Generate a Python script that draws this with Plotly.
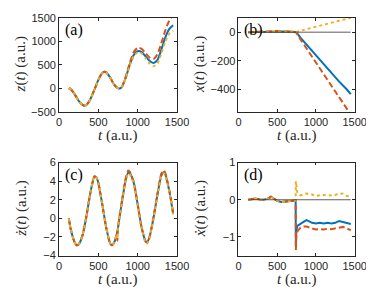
import plotly.graph_objects as go

# ---------------- data ----------------
# (a) z(t)
t_z = [125, 150, 200, 250, 300, 325, 350, 400, 450, 500, 550, 575, 600, 650, 700, 750, 775, 800,
       850, 900, 950, 1000, 1050, 1100, 1150, 1200, 1250, 1300, 1350, 1400, 1450]
z_blue = [0, -20, -130, -270, -355, -370, -355, -230, -30, 180, 325, 350, 340, 230, 80, 5, -5, 30,
          235, 505, 710, 790, 770, 680, 585, 540, 600, 820, 1080, 1260, 1340]
z_red = [0, -20, -130, -270, -355, -370, -355, -230, -30, 180, 325, 350, 340, 230, 80, 5, -5, 35,
         255, 545, 770, 860, 840, 745, 655, 625, 720, 960, 1230, 1440, 1560]
z_yel = [0, -20, -130, -270, -355, -370, -355, -230, -30, 180, 325, 350, 340, 230, 80, 5, -5, 28,
         225, 485, 685, 765, 740, 640, 525, 470, 525, 740, 990, 1160, 1225]

# (b) x(t)
t_x = [125, 200, 300, 400, 450, 500, 550, 600, 700, 745, 800, 900, 1000, 1100, 1200, 1300, 1400, 1450]
x_blue = [0, 1, 2, 4, 6, 7, 6, 5, 3, 0, -38, -100, -162, -225, -285, -345, -400, -432]
x_red = [0, 1, 3, 5, 8, 10, 9, 6, 3, 0, -50, -130, -210, -290, -370, -450, -530, -575]
x_yel = [0, 1, 3, 5, 8, 9, 8, 6, 3, 0, 10, 25, 40, 55, 68, 80, 93, 100]

# (c) zdot(t)
t_zd = [125, 150, 200, 225, 250, 300, 350, 400, 450, 475, 500, 550, 600, 650, 675, 700, 735, 742,
        750, 800, 850, 880, 900, 950, 1000, 1050, 1100, 1120, 1150, 1200, 1250, 1300, 1330, 1350,
        1400, 1450]
zd_blue = [0, -1.2, -2.6, -2.9, -2.8, -1.8, 0.3, 2.8, 4.5, 4.4, 3.8, 1.5, -1.0, -2.7, -2.9, -2.6,
           -1.7, -1.4, -1.0, 1.8, 4.2, 4.95, 4.85, 3.8, 1.5, -1.0, -2.45, -2.55, -2.0, 0.0, 2.5,
           4.6, 4.95, 4.75, 3.0, 0.5]
zd_red = [0, -1.2, -2.6, -2.9, -2.8, -1.8, 0.3, 2.8, 4.5, 4.4, 3.8, 1.5, -1.0, -2.7, -2.9, -2.6,
          -1.7, -2.4, -1.0, 1.9, 4.4, 5.15, 5.0, 3.9, 1.5, -1.0, -2.5, -2.6, -2.0, 0.1, 2.6, 4.8,
          5.15, 4.9, 3.1, 0.6]
zd_yel = [0, -1.2, -2.6, -2.9, -2.8, -1.8, 0.3, 2.8, 4.5, 4.4, 3.8, 1.5, -1.0, -2.7, -2.9, -2.6,
          -1.7, -2.2, -1.0, 1.7, 4.1, 4.85, 4.75, 3.7, 1.4, -1.1, -2.6, -2.7, -2.1, -0.1, 2.4,
          4.5, 4.85, 4.65, 2.9, 0.4]

# (d) xdot(t)
t_xd = [125, 175, 220, 270, 320, 380, 420, 450, 500, 550, 600, 650, 700, 738, 741, 746, 760, 800,
        850, 880, 950, 1000, 1050, 1100, 1150, 1200, 1250, 1300, 1350, 1400, 1450]
xd_blue = [0, 0.01, 0.03, 0.01, 0.0, 0.03, 0.08, 0.04, -0.03, -0.06, -0.05, -0.03, -0.04, -0.02,
           -1.25, -0.85, -0.7, -0.64, -0.58, -0.55, -0.62, -0.64, -0.62, -0.64, -0.62, -0.64,
           -0.62, -0.57, -0.6, -0.63, -0.65]
xd_red = [0, 0.01, 0.03, 0.01, 0.0, 0.03, 0.08, 0.04, -0.03, -0.06, -0.05, -0.03, -0.04, -0.02,
          -1.35, -1.0, -0.85, -0.75, -0.72, -0.72, -0.77, -0.8, -0.79, -0.8, -0.78, -0.79, -0.77,
          -0.74, -0.73, -0.77, -0.82]
xd_yel = [0, 0.01, 0.03, 0.01, 0.0, 0.03, 0.08, 0.04, -0.03, -0.06, -0.05, -0.03, -0.04, -0.02,
          0.5, 0.35, 0.18, 0.12, 0.15, 0.17, 0.14, 0.1, 0.12, 0.13, 0.11, 0.12, 0.13, 0.17, 0.16,
          0.1, 0.08]

t_zero = [125, 1450]
zero_line = [0, 0]

x_ticks = [0, 500, 1000, 1500]
panel_labels = ["(a)", "(b)", "(c)", "(d)"]
y_titles = ["<i>z</i>(<i>t</i>) (a.u.)", "<i>x</i>(<i>t</i>) (a.u.)",
            "<i>ż</i>(<i>t</i>) (a.u.)", "<i>ẋ</i>(<i>t</i>) (a.u.)"]
x_title = "<i>t</i> (a.u.)"

# ---------------- figure ----------------
W, H = 374, 289
BLUE, RED, YEL = "#0072BD", "#D95319", "#EDB120"
SERIF = "Liberation Serif, Times New Roman, serif"

fig = go.Figure()

panels = [
    ("x", "y", t_z, z_blue, z_red, z_yel, "spline", False),
    ("x2", "y2", t_x, x_blue, x_red, x_yel, "linear", True),
    ("x3", "y3", t_zd, zd_blue, zd_red, zd_yel, "spline", False),
    ("x4", "y4", t_xd, xd_blue, xd_red, xd_yel, "linear", True),
]
for xa, ya, tt, b, r, yv, shape, zl in panels:
    fig.add_trace(go.Scatter(x=tt, y=b, mode="lines", xaxis=xa, yaxis=ya,
                             line=dict(color=BLUE, width=2, shape=shape, smoothing=0.6)))
    fig.add_trace(go.Scatter(x=tt, y=r, mode="lines", xaxis=xa, yaxis=ya,
                             line=dict(color=RED, width=2, dash="6px,3px", shape=shape,
                                       smoothing=0.6)))
    fig.add_trace(go.Scatter(x=tt, y=yv, mode="lines", xaxis=xa, yaxis=ya,
                             line=dict(color=YEL, width=2, dash="dot", shape=shape,
                                       smoothing=0.6)))
    if zl:
        fig.add_trace(go.Scatter(x=t_zero, y=zero_line, mode="lines", xaxis=xa, yaxis=ya,
                                 line=dict(color="#333333", width=0.8)))

# domains in pixels
px_x = [(50, 173), (237, 358), (50, 173), (237, 358)]
px_y = [(4, 102), (4, 102), (155, 252), (155, 252)]
y_ranges = [[-500, 1500], [-555, 100], [-4, 6], [-1.5, 1]]
y_ticks = [[-500, 0, 500, 1000, 1500], [-400, -200, 0], [-4, -2, 0, 2, 4, 6], [-1, 0, 1]]

axcommon = dict(showline=True, linecolor="#262626", linewidth=0.8, mirror="ticks",
                ticks="inside", ticklen=3, tickcolor="#262626", tickwidth=0.8,
                showgrid=False, zeroline=False,
                tickfont=dict(family="Liberation Sans, Arial, sans-serif", size=11,
                              color="#262626"))

layout = dict(width=W, height=H, margin=dict(l=0, r=0, t=0, b=0),
              paper_bgcolor="white", plot_bgcolor="white", showlegend=False)
annotations = []
for i in range(4):
    (x0, x1), (y0, y1) = px_x[i], px_y[i]
    sfx = "" if i == 0 else str(i + 1)
    layout["xaxis" + sfx] = dict(domain=[x0 / W, x1 / W], range=[0, 1500], tickvals=x_ticks,
                                 anchor="y" + sfx, **axcommon)
    layout["yaxis" + sfx] = dict(domain=[1 - y1 / H, 1 - y0 / H], range=y_ranges[i],
                                 tickvals=y_ticks[i], anchor="x" + sfx, **axcommon)
    # panel label
    annotations.append(dict(text=panel_labels[i], x=(x0 + 4) / W, y=1 - (y0 + 1) / H,
                            xref="paper", yref="paper", xanchor="left", yanchor="top",
                            showarrow=False,
                            font=dict(family=SERIF, size=16, color="black")))
    # x title
    annotations.append(dict(text=x_title, x=(x0 + x1) / 2 / W, y=1 - (y1 + 25) / H,
                            xref="paper", yref="paper", xanchor="center", yanchor="middle",
                            showarrow=False,
                            font=dict(family=SERIF, size=15, color="#262626")))
    # y title
    annotations.append(dict(text=y_titles[i], x=(x0 - 40) / W, y=1 - (y0 + y1) / 2 / H,
                            xref="paper", yref="paper", xanchor="center", yanchor="middle",
                            textangle=-90, showarrow=False,
                            font=dict(family=SERIF, size=15, color="#262626")))
layout["annotations"] = annotations
fig.update_layout(**layout)
fig.write_html("out.html")
